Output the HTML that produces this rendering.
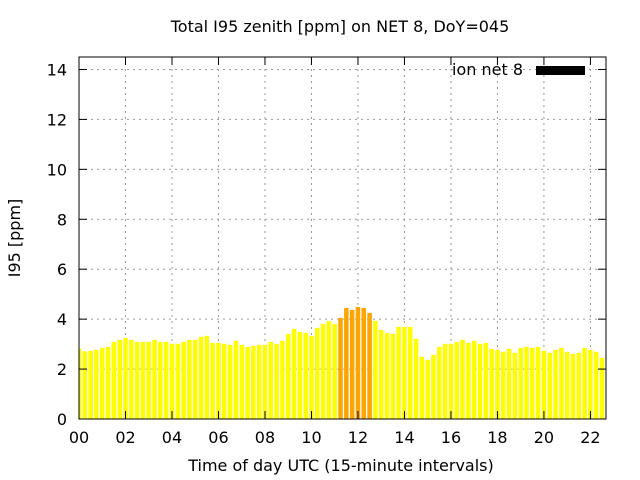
<!DOCTYPE html>
<html><head><meta charset="utf-8"><style>
body{margin:0;background:#fff;}
svg{display:block;font-family:"DejaVu Sans","Liberation Sans",sans-serif;}
</style></head><body>
<svg id="chart" width="640" height="480" xmlns="http://www.w3.org/2000/svg">
<text x="340" y="32" text-anchor="middle" font-size="16">Total I95 zenith [ppm] on NET 8, DoY=045</text>
<text x="341" y="471" text-anchor="middle" font-size="16">Time of day UTC (15-minute intervals)</text>
<text x="20" y="238" text-anchor="middle" font-size="16" transform="rotate(-90 20 238)">I95 [ppm]</text>
<g id="grid"></g>
<g id="bars"></g>
<g id="axes"></g>
<g>
<text x="523" y="75" text-anchor="end" font-size="16">ion net 8</text>
<rect x="536" y="66" width="49" height="9" fill="#000"/>
</g>
</svg>
<script>
const values = [2.81,2.71,2.73,2.77,2.85,2.89,3.09,3.17,3.25,3.17,3.09,3.09,3.09,3.17,3.09,3.09,3.01,3.01,3.09,3.17,3.17,3.29,3.33,3.05,3.05,3.01,2.97,3.13,2.97,2.89,2.93,2.97,2.97,3.09,3.01,3.13,3.41,3.61,3.49,3.45,3.33,3.65,3.81,3.92,3.81,4.05,4.45,4.37,4.49,4.45,4.25,3.93,3.57,3.45,3.41,3.69,3.69,3.69,3.21,2.49,2.37,2.57,2.89,3.01,3.01,3.09,3.17,3.05,3.13,3.01,3.05,2.81,2.77,2.69,2.81,2.65,2.85,2.89,2.85,2.89,2.73,2.65,2.77,2.85,2.69,2.61,2.65,2.85,2.77,2.69,2.45,2.45];
const yTicks = [0,2,4,6,8,10,12,14];
const xTicks = [0,2,4,6,8,10,12,14,16,18,20,22];
const xTickLabels = ["00","02","04","06","08","10","12","14","16","18","20","22"];
const threshold = 4;
const L=79,R=606,T=57,B=419,XMAX=22.67,YMAX=14.5;
const NS="http://www.w3.org/2000/svg";
const xs=h=>L+h/XMAX*(R-L);
const ys=v=>B-v/YMAX*(B-T);
function mk(tag,attrs,parent){const e=document.createElementNS(NS,tag);for(const k in attrs)e.setAttribute(k,attrs[k]);parent.appendChild(e);return e;}
const grid=document.getElementById('grid'),bars=document.getElementById('bars'),axes=document.getElementById('axes');
yTicks.forEach(v=>{
  const y=ys(v);
  if(v>0){const g=mk('line',{x1:L,x2:R,y1:y,y2:y,stroke:'#999','stroke-dasharray':'2,4'},grid);
  
  }
  mk('line',{x1:L,x2:L+8,y1:y,y2:y,stroke:'#000'},axes);
  mk('line',{x1:R,x2:R-8,y1:y,y2:y,stroke:'#000'},axes);
  const t=mk('text',{x:L-12,y:y+6,'text-anchor':'end','font-size':16},axes);
  t.textContent=v;
  
  
});
xTicks.forEach((h,i)=>{
  const x=xs(h);
  if(h>0){const g=mk('line',{x1:x,x2:x,y1:T,y2:B,stroke:'#999','stroke-dasharray':'2,4'},grid);
  
  }
  mk('line',{x1:x,x2:x,y1:B,y2:B-8,stroke:'#000'},axes);
  mk('line',{x1:x,x2:x,y1:T,y2:T+8,stroke:'#000'},axes);
  const t=mk('text',{x:x,y:B+24,'text-anchor':'middle','font-size':16},axes);
  t.textContent=xTickLabels[i];
  
  
});
const bw=(xs(0.25)-xs(0))*0.78;
values.forEach((v,i)=>{
  const c=xs(i*0.25);
  let x0=Math.max(L,c-bw/2),x1=Math.min(R,c+bw/2);
  if(x1<=x0)return;
  const r=mk('rect',{x:x0,y:ys(v),width:x1-x0,height:B-ys(v),fill:v>threshold?'#ffa500':'#ffff00'},bars);
  
  
});
mk('rect',{x:L,y:T,width:R-L,height:B-T,fill:'none',stroke:'#000','stroke-width':1},axes);
</script>
</body></html>
